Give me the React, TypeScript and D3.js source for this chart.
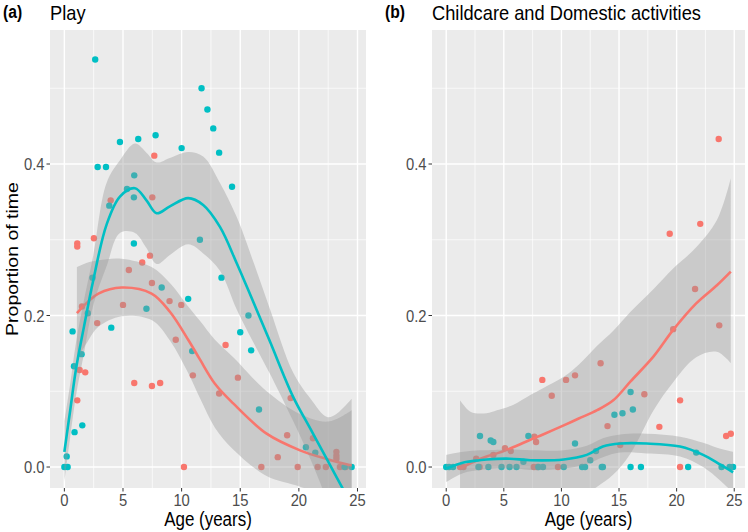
import React from 'react';
import * as d3 from 'd3';

const RED = '#F8766D';
const TEAL = '#00BFC4';

const xTicks = [0, 5, 10, 15, 20, 25];
const xMinor = [2.5, 7.5, 12.5, 17.5, 22.5];
const yTicks = [0, 0.2, 0.4];
const yTickLabels = ['0.0', '0.2', '0.4'];
const yMinor = [0.1, 0.3, 0.5];

// ---- Panel (a): Play ----
const playRedPts: [number, number][] = [
  [1.1, 0.295], [1.1, 0.291], [2.52, 0.302], [7.67, 0.411], [7.3, 0.279], [6.64, 0.27], [5.5, 0.26],
  [7.47, 0.243], [8.97, 0.219], [9.97, 0.214], [5.0, 0.214], [1.5, 0.212], [2.8, 0.19], [9.5, 0.168],
  [1.3, 0.128], [1.78, 0.125], [10.96, 0.121], [5.96, 0.111], [7.47, 0.107], [8.17, 0.111], [1.1, 0.088],
  [10.2, 0], [3.95, 0.352], [7.5, 0.356], [13.75, 0.161], [14.8, 0.118], [13.2, 0.097], [19.3, 0.091],
  [19.0, 0.042], [21.2, 0.038], [23.2, 0.02], [23.2, 0.015], [23.2, 0.011], [18.2, 0.013], [16.8, 0],
  [19.9, 0], [21.6, 0], [22.3, 0], [23.5, 0], [24.0, 0],
];
const playTealPts: [number, number][] = [
  [2.63, 0.538], [11.7, 0.5], [12.2, 0.472], [12.7, 0.447], [4.74, 0.429], [6.3, 0.433], [7.78, 0.438],
  [10.0, 0.421], [2.84, 0.396], [3.55, 0.396], [5.96, 0.385], [5.34, 0.367], [5.93, 0.356], [3.83, 0.345],
  [5.93, 0.295], [11.56, 0.3], [13.2, 0.415], [14.3, 0.37], [8.3, 0.237], [2.4, 0.25], [10.56, 0.222],
  [7.0, 0.209], [2.0, 0.203], [4.0, 0.184], [0.7, 0.179], [1.47, 0.149], [10.9, 0.153], [0.82, 0.133],
  [0.87, 0.046], [1.53, 0.055], [0.2, 0.014], [0, 0], [0.28, 0], [13.4, 0.25], [15.7, 0.2], [15.0, 0.178],
  [15.93, 0.154], [16.6, 0.076], [20.6, 0.026], [21.4, 0.019], [24.5, 0], [23.9, 0],
];
const playRedSmX = [1.07, 2.0, 2.9, 4.88, 7.44, 9.0, 10.56, 11.56, 12.84, 14.4, 17.25, 20.1, 22.5, 24.5];
const playRedFit = [0.203, 0.218, 0.229, 0.237, 0.229, 0.205, 0.168, 0.142, 0.11, 0.084, 0.044, 0.022, 0.01, 0.002];
const playRedHi = [0.264, 0.27, 0.273, 0.275, 0.264, 0.243, 0.212, 0.193, 0.168, 0.145, 0.1, 0.07, 0.06, 0.075];
const playRedLo = [0.142, 0.166, 0.185, 0.199, 0.194, 0.167, 0.124, 0.091, 0.052, 0.023, -0.012, -0.026, -0.04, -0.071];

const playTealSmX = [0, 0.5, 1, 1.67, 2.47, 3.6, 4.74, 6.02, 7.0, 7.87, 9.0, 10.56, 11.84, 13.27, 14.7, 16, 17.5, 19.5, 21, 22.4, 23.2, 24.5];
const playTealFit = [0.02, 0.075, 0.13, 0.185, 0.247, 0.32, 0.357, 0.368, 0.352, 0.335, 0.344, 0.355, 0.346, 0.317, 0.269, 0.222, 0.167, 0.093, 0.05, 0.01, -0.013, -0.05];
const playTealHi = [0.06, 0.11, 0.165, 0.22, 0.28, 0.375, 0.405, 0.427, 0.415, 0.402, 0.408, 0.416, 0.41, 0.375, 0.33, 0.276, 0.21, 0.125, 0.09, 0.066, 0.07, 0.09];
const playTealLo = [-0.02, 0.04, 0.095, 0.15, 0.214, 0.265, 0.309, 0.309, 0.289, 0.268, 0.28, 0.294, 0.282, 0.259, 0.208, 0.168, 0.124, 0.061, 0.01, -0.046, -0.096, -0.19];

// ---- Panel (b): Childcare and Domestic activities ----
const careRedPts: [number, number][] = [
  [23.65, 0.433], [22.05, 0.321], [19.4, 0.308], [21.6, 0.235], [19.7, 0.182], [23.7, 0.187], [13.4, 0.137],
  [11.18, 0.121], [10.4, 0.115], [8.34, 0.115], [9.16, 0.094], [17.2, 0.096], [20.3, 0.088], [14.0, 0.054],
  [18.5, 0.053], [24.3, 0.041], [24.7, 0.044], [15.1, 0.029], [7.65, 0.04], [7.8, 0.033], [5.1, 0.025],
  [5.6, 0.021], [4.09, 0.016], [2.6, 0.011], [1.2, 0], [1.5, 0], [2.9, 0], [7.6, 0], [7.9, 0], [9.7, 0], [20.3, 0],
];
const careTealPts: [number, number][] = [
  [2.93, 0.041], [3.86, 0.035], [4.09, 0.033], [7.13, 0.041], [11.18, 0.031], [12.5, 0.009], [13.0, 0.021],
  [14.6, 0.069], [15.3, 0.071], [16.2, 0.076], [16.0, 0.099], [21.7, 0.019], [6.7, 0.007],
  [0, 0], [0.25, 0], [0.6, 0], [2.8, 0], [3.66, 0], [4.8, 0], [5.5, 0], [6.1, 0], [8.0, 0], [8.4, 0],
  [10.2, 0], [11.8, 0], [12.05, 0], [13.5, 0], [13.6, 0], [16.0, 0], [16.9, 0], [21.0, 0], [23.9, 0],
  [24.6, 0], [24.9, 0],
];
const careRedSmX = [1.2, 2.1, 3.5, 4.4, 5.8, 7.3, 8.4, 10.2, 11.5, 13.1, 14.5, 16.0, 18.0, 19.7, 21.7, 23.5, 24.7];
const careRedFit = [-0.002, 0.005, 0.014, 0.018, 0.026, 0.036, 0.043, 0.055, 0.064, 0.075, 0.088, 0.113, 0.146, 0.181, 0.216, 0.24, 0.258];
const careRedHi = [0.088, 0.073, 0.071, 0.075, 0.082, 0.095, 0.104, 0.119, 0.135, 0.16, 0.18, 0.205, 0.235, 0.262, 0.29, 0.326, 0.381];
const careRedLo = [-0.12, -0.1, -0.08, -0.07, -0.06, -0.055, -0.05, -0.045, -0.04, -0.026, -0.01, 0.018, 0.075, 0.112, 0.145, 0.152, 0.137];

const careTealSmX = [0, 1.5, 2.9, 3.5, 5.5, 7.3, 10.2, 12.2, 13.6, 15.1, 17.4, 20.3, 22.3, 23.8, 24.9];
const careTealFit = [-0.002, 0.006, 0.009, 0.01, 0.011, 0.009, 0.01, 0.016, 0.027, 0.031, 0.031, 0.027, 0.016, 0.003, -0.007];
const careTealHi = [0.016, 0.02, 0.022, 0.022, 0.023, 0.022, 0.022, 0.028, 0.038, 0.043, 0.044, 0.04, 0.032, 0.024, 0.02];
const careTealLo = [-0.02, -0.008, -0.004, -0.003, -0.001, -0.004, -0.002, 0.004, 0.013, 0.019, 0.018, 0.014, 0.0, -0.018, -0.034];

const FONT = 'Liberation Sans, Arial, Helvetica, sans-serif';
const SX = 0.87;

type Smooth = { xs: number[]; fit: number[]; lo: number[]; hi: number[]; color: string };
type PanelProps = {
  id: string;
  left: number; right: number; top: number; bottom: number;
  xDomain: [number, number];
  tag: string; title: string;
  redPts: [number, number][]; tealPts: [number, number][];
  smooths: Smooth[];
};

const yDomain: [number, number] = [-0.0277, 0.5769];

function Txt(props: {
  x: number; y: number; size: number; anchor?: string; weight?: string | number; fill?: string;
  rotate?: number; sx?: number; dy?: string; children: React.ReactNode;
}) {
  const { x, y, size, anchor = 'start', weight = 'normal', fill = '#000', rotate, sx = SX, dy = '0', children } = props;
  const tr = `translate(${x},${y}) scale(${sx},1)` + (rotate ? ` rotate(${rotate})` : '');
  return (
    <text transform={tr} fontSize={size} fontFamily={FONT} fontWeight={weight} fill={fill} textAnchor={anchor} dy={dy}>
      {children}
    </text>
  );
}

function Panel(p: PanelProps) {
  const x = d3.scaleLinear().domain(p.xDomain).range([p.left, p.right]);
  const y = d3.scaleLinear().domain(yDomain).range([p.bottom, p.top]);
  const curve = d3.curveCatmullRom.alpha(0.5);
  const clipId = `clip-${p.id}`;
  return (
    <g>
      <defs>
        <clipPath id={clipId}>
          <rect x={p.left} y={p.top} width={p.right - p.left} height={p.bottom - p.top} />
        </clipPath>
      </defs>
      <rect x={p.left} y={p.top} width={p.right - p.left} height={p.bottom - p.top} fill="#EBEBEB" />
      {yMinor.map((v) => (
        <line key={'ym' + v} x1={p.left} x2={p.right} y1={y(v)} y2={y(v)} stroke="#fff" strokeWidth={0.7} />
      ))}
      {xMinor.map((v) => (
        <line key={'xm' + v} x1={x(v)} x2={x(v)} y1={p.top} y2={p.bottom} stroke="#fff" strokeWidth={0.7} />
      ))}
      {yTicks.map((v) => (
        <line key={'yM' + v} x1={p.left} x2={p.right} y1={y(v)} y2={y(v)} stroke="#fff" strokeWidth={1.4} />
      ))}
      {xTicks.map((v) => (
        <line key={'xM' + v} x1={x(v)} x2={x(v)} y1={p.top} y2={p.bottom} stroke="#fff" strokeWidth={1.4} />
      ))}
      <g clipPath={`url(#${clipId})`}>
        {p.redPts.map((d, i) => (
          <circle key={'r' + i} cx={x(d[0])} cy={y(d[1])} r={3.2} fill={RED} />
        ))}
        {p.tealPts.map((d, i) => (
          <circle key={'t' + i} cx={x(d[0])} cy={y(d[1])} r={3.2} fill={TEAL} />
        ))}
        {p.smooths.map((s, k) => {
          const idx = s.xs.map((_, i) => i);
          const a = d3.area<number>()
            .curve(curve)
            .x((i) => x(s.xs[i]))
            .y0((i) => y(s.lo[i]))
            .y1((i) => y(s.hi[i]))(idx) || '';
          const l = d3.line<number>()
            .curve(curve)
            .x((i) => x(s.xs[i]))
            .y((i) => y(s.fit[i]))(idx) || '';
          return (
            <g key={'s' + k}>
              <path d={a} fill="#999999" fillOpacity={0.4} />
              <path d={l} fill="none" stroke={s.color} strokeWidth={2.6} />
            </g>
          );
        })}
      </g>
      {yTicks.map((v, i) => (
        <g key={'yt' + v}>
          <line x1={p.left - 3.5} x2={p.left} y1={y(v)} y2={y(v)} stroke="#333" strokeWidth={1} />
          <Txt x={p.left - 5.5} y={y(v)} size={17} anchor="end" fill="#4D4D4D" dy="0.36em">{yTickLabels[i]}</Txt>
        </g>
      ))}
      {xTicks.map((v) => (
        <g key={'xt' + v}>
          <line x1={x(v)} x2={x(v)} y1={p.bottom} y2={p.bottom + 3.5} stroke="#333" strokeWidth={1} />
          <Txt x={x(v)} y={p.bottom + 17.5} size={17} anchor="middle" fill="#4D4D4D">{v}</Txt>
        </g>
      ))}
      <Txt x={(p.left + p.right) / 2} y={p.bottom + 38} size={19.5} anchor="middle">Age (years)</Txt>
      <Txt x={p.left} y={20} size={21}>{p.title}</Txt>
      <Txt x={p.left - 47} y={18} size={18} weight="bold">{p.tag}</Txt>
    </g>
  );
}

export default function App() {
  return (
    <svg width={748} height={532} style={{ position: 'absolute', left: 0, top: 0, background: '#fff' }}>
      <rect x={0} y={0} width={748} height={532} fill="#fff" />
      <Panel
        id="a" left={50} right={366} top={30} bottom={488} xDomain={[-1.225, 25.725]}
        tag="(a)" title="Play" redPts={playRedPts} tealPts={playTealPts}
        smooths={[
          { xs: playRedSmX, fit: playRedFit, lo: playRedLo, hi: playRedHi, color: RED },
          { xs: playTealSmX, fit: playTealFit, lo: playTealLo, hi: playTealHi, color: TEAL },
        ]}
      />
      <Panel
        id="b" left={432} right={745} top={30} bottom={488} xDomain={[-1.235, 25.935]}
        tag="(b)" title="Childcare and Domestic activities" redPts={careRedPts} tealPts={careTealPts}
        smooths={[
          { xs: careRedSmX, fit: careRedFit, lo: careRedLo, hi: careRedHi, color: RED },
          { xs: careTealSmX, fit: careTealFit, lo: careTealLo, hi: careTealHi, color: TEAL },
        ]}
      />
      <Txt x={12} y={259} size={19.5} anchor="middle" rotate={-90} dy="0.35em">Proportion of time</Txt>
    </svg>
  );
}
